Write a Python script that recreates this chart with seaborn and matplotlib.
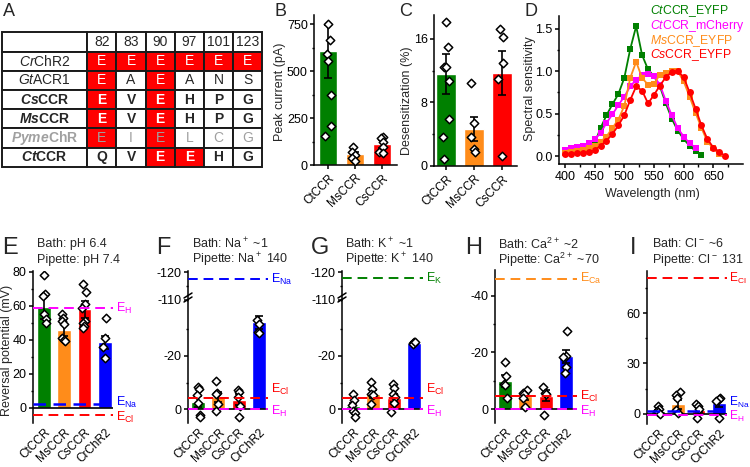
import re
import numpy as np
import pandas as pd
import matplotlib
matplotlib.use('Agg')
import matplotlib.pyplot as plt
import seaborn as sns
from matplotlib.ticker import MultipleLocator, FixedLocator
from matplotlib.lines import Line2D
import matplotlib.transforms as mtransforms

# ---------------- data ----------------
# Panel A
positions_A = ['82', '83', '90', '97', '101', '123']
proteins_A = ['CrChR2', 'GtACR1', 'CsCCR', 'MsCCR', 'PymeChR', 'CtCCR']
residues_CrChR2 = ['E', 'E', 'E', 'E', 'E', 'E']
residues_GtACR1 = ['E', 'A', 'E', 'A', 'N', 'S']
residues_CsCCR = ['E', 'V', 'E', 'H', 'P', 'G']
residues_MsCCR = ['E', 'V', 'E', 'H', 'P', 'G']
residues_PymeChR = ['E', 'I', 'E', 'L', 'C', 'G']
residues_CtCCR = ['Q', 'V', 'E', 'E', 'H', 'G']
bold_rows = ['CsCCR', 'MsCCR', 'PymeChR', 'CtCCR']
grey_rows = ['PymeChR']

# Panel B
cats3 = ['CtCCR', 'MsCCR', 'CsCCR']
peak_mean = [606, 58, 112]
peak_sem = [140, 12, 20]
peak_ct = [750, 665, 590, 553, 372, 207, 154]
peak_ms = [97, 71, 53, 36, 21]
peak_cs = [150, 142, 124, 97, 71, 62]

# Panel C
des_mean = [11.6, 4.7, 11.7]
des_sem = [2.5, 1.5, 2.8]
des_ct = [18.1, 15.0, 12.5, 12.4, 10.7, 5.9, 3.7, 0.9]
des_ms = [10.4, 5.4, 3.7, 2.2, 1.7]
des_cs = [17.2, 16.2, 13.0, 10.9, 1.3]

# Panel D
wl_ct_eyfp = [400, 410, 420, 430, 440, 450, 460, 470, 480, 490, 500, 510, 520,
              530, 540, 550, 560, 570, 580, 590, 600, 610, 620, 630]
sens_ct_eyfp = [0.05, 0.05, 0.06, 0.08, 0.10, 0.15, 0.33, 0.48, 0.61, 0.73, 0.92, 1.26, 1.53,
                1.19, 1.02, 0.94, 0.82, 0.62, 0.44, 0.30, 0.20, 0.12, 0.06, 0.01]
wl_ct_mch = [400, 410, 420, 430, 440, 450, 460, 470, 480, 490, 500, 510, 520,
             530, 540, 550, 560, 570, 580, 590, 600, 610, 620]
sens_ct_mch = [0.07, 0.09, 0.11, 0.12, 0.15, 0.20, 0.27, 0.39, 0.49, 0.60, 0.70, 0.82, 0.90,
               0.95, 0.97, 0.94, 0.84, 0.65, 0.48, 0.33, 0.23, 0.15, 0.10]
wl_ms = [400, 410, 420, 430, 440, 450, 460, 470, 480, 490, 500, 510, 520, 530,
         540, 550, 560, 570, 580, 590, 600, 610, 620, 630, 640, 650, 660]
sens_ms = [0.04, 0.05, 0.06, 0.07, 0.09, 0.12, 0.17, 0.23, 0.33, 0.43, 0.59, 0.92, 1.11, 0.92,
           0.84, 0.85, 0.96, 0.98, 1.00, 1.00, 0.88, 0.70, 0.51, 0.33, 0.17, 0.09, 0.02]
wl_cs = [400, 410, 420, 430, 440, 450, 460, 470, 480, 490, 500, 510, 520, 530,
         540, 550, 560, 570, 580, 590, 600, 610, 620, 630, 640, 650, 660, 670]
sens_cs = [0.02, 0.02, 0.03, 0.04, 0.05, 0.07, 0.12, 0.18, 0.26, 0.36, 0.48, 0.66, 0.82, 0.77,
           0.62, 0.72, 0.83, 0.93, 0.99, 1.00, 0.93, 0.75, 0.56, 0.36, 0.20, 0.10, 0.05, 0.00]
legend_D = [r'$\mathsf{Ct}$CCR_EYFP', r'$\mathsf{Ct}$CCR_mCherry', r'$\mathsf{Ms}$CCR_EYFP', r'$\mathsf{Cs}$CCR_EYFP']
wl_ticks = [400, 450, 500, 550, 600, 650]

# Panels E-I
cats4 = ['CtCCR', 'MsCCR', 'CsCCR', 'CrChR2']
E_mean = [59.5, 46, 58, 38.5]
E_sem = [7, 3.5, 5, 4]
E_pts = [[78, 67, 66, 55, 52, 50], [55, 53, 51, 49, 41, 40, 39],
         [73, 68, 61, 59, 51, 50, 48, 47], [53, 41, 36, 29]]
E_head = ['Bath: pH 6.4', 'Pipette: pH 7.4']

F_mean = [-2.8, -4.5, -3.5, -32.7]
F_sem = [2.0, 1.8, 2.0, 2.4]
F_pts = [[-8.2, -7.5, -5.1, -2.2, 2.1, 3.1], [-10.7, -6.2, -5.7, -2.0, 0.9],
         [-7.2, -6.3, -4.7, -1.2, 3.0], [-33.5, -32.0, -29.0, -28.5]]
F_head = [r'Bath: Na$^+$ ~1', r'Pipette: Na$^+$ 140']

G_mean = [-1.1, -5.6, -4.2, -25.0]
G_sem = [1.3, 1.5, 1.5, 0.4]
G_pts = [[-5.5, -3.4, -1.5, 0.6, 1.4, 2.9], [-10.3, -7.4, -5.6, -5.4, -1.9],
         [-9.4, -8.1, -5.5, -4.6, -2.4, 1.0], [-25.3, -25.0, -24.8, -24.6, -25.2]]
G_head = [r'Bath: K$^+$ ~1', r'Pipette: K$^+$ 140']

H_mean = [-9.9, -4.6, -4.7, -18.7]
H_sem = [2.0, 1.3, 2.0, 2.3]
H_pts = [[-16.5, -11.8, -8.8, -8.5, -3.8], [-6.7, -5.8, -5.5, -4.0, -0.8],
         [-7.9, -5.8, -5.5, 2.1], [-27.6, -18.7, -18.5, -14.9, -12.6]]
H_head = [r'Bath: Ca$^{2+}$ ~2', r'Pipette: Ca$^{2+}$ ~70']

I_mean = [1.6, 5.6, 2.4, 6.5]
I_sem = [1.0, 2.5, 1.5, 2.5]
I_pts = [[5, 3, 2, 1, 0], [13, 11.5, 9.5, 2.6, 0.6],
         [5.6, 4.6, 3.0, -2.4], [9.5, 9.0, 7.5, -2.4]]
I_head = [r'Bath: Cl$^-$ ~6', r'Pipette: Cl$^-$ 131']

# equilibrium potentials (value, ion)
E_eq = [(59, 'H'), (2.4, 'Na'), (-4, 'Cl')]
F_eq = [(-117.5, 'Na'), (-4.3, 'Cl'), (0, 'H')]
G_eq = [(-117.7, 'K'), (-4.3, 'Cl'), (0, 'H')]
H_eq = [(-46.1, 'Ca'), (-4.6, 'Cl'), (0, 'H')]
I_eq = [(80.8, 'Cl'), (1.6, 'Na'), (-0.8, 'H')]

# ---------------- style ----------------
GREEN, ORANGE, RED, BLUE, MAG = '#008000', '#FF8C1A', '#FF0000', '#0000FF', '#FF00FF'
bar_colors = {'CtCCR': GREEN, 'MsCCR': ORANGE, 'CsCCR': RED, 'CrChR2': BLUE}
ion_colors = {'H': MAG, 'Na': BLUE, 'Cl': RED, 'K': GREEN, 'Ca': ORANGE}

sns.set_style('ticks')
plt.rcParams.update({
    'font.family': ['Liberation Sans', 'DejaVu Sans'],
    'mathtext.fontset': 'custom',
    'mathtext.rm': 'Liberation Sans',
    'mathtext.it': 'Liberation Sans:italic:bold',
    'mathtext.sf': 'Liberation Sans:italic',
    'mathtext.bf': 'Liberation Sans:bold',
    'axes.unicode_minus': False,
    'axes.linewidth': 1.1,
    'xtick.major.width': 1.1, 'ytick.major.width': 1.1,
    'xtick.minor.width': 1.0, 'ytick.minor.width': 1.0,
    'xtick.major.size': 3.0, 'ytick.major.size': 3.0,
    'xtick.minor.size': 1.8, 'ytick.minor.size': 1.8,
    'xtick.major.pad': 2.0, 'ytick.major.pad': 1.5,
    'xtick.labelsize': 9, 'ytick.labelsize': 9,
    'axes.labelsize': 9,
    'xtick.color': 'black', 'ytick.color': 'black',
    'axes.edgecolor': 'black',
})

W, H = 750, 467
fig = plt.figure(figsize=(7.5, 4.67), dpi=100)


def px_axes(l, t, r, b):
    return fig.add_axes([l / W, 1 - b / H, (r - l) / W, (b - t) / H])


def ftext(x, y, s, **kw):
    kw.setdefault('va', 'center')
    fig.text(x / W, 1 - y / H, s, **kw)


def points_df(cats, lists):
    g, v = [], []
    for c, vals in zip(cats, lists):
        g += [c] * len(vals)
        v += list(vals)
    return pd.DataFrame({'group': g, 'value': v})


def bars(ax, cats, means, sems, pts, width=0.68):
    sns.barplot(x=cats, y=means, hue=cats, palette=[bar_colors[c] for c in cats],
                legend=False, width=width, saturation=1, ax=ax, zorder=1)
    ax.errorbar(np.arange(len(cats)), means, yerr=sems, fmt='none', ecolor='black',
                elinewidth=1.2, capsize=3, capthick=1.2, zorder=3)
    np.random.seed(3)
    sns.stripplot(data=points_df(cats, pts), x='group', y='value', order=cats,
                  jitter=0.13, marker='D', size=4.3, color='white', edgecolor='black',
                  linewidth=1.1, ax=ax, zorder=4)
    ax.set_xlabel('')
    ax.set_ylabel('')


def clean(ax, bottom=True):
    ax.spines['top'].set_visible(False)
    ax.spines['right'].set_visible(False)
    if not bottom:
        ax.spines['bottom'].set_visible(False)


def rot_labels(ax, cats, bottom_ticks=True):
    ax.set_xticks(np.arange(len(cats)))
    ax.set_xticklabels(cats, rotation=45, ha='right', rotation_mode='anchor', fontsize=8.5)
    if not bottom_ticks:
        ax.tick_params(axis='x', length=0, pad=2.5)


def eq_label(ax, val, ion, dy=0, dx=3, fs=9):
    tr = mtransforms.blended_transform_factory(ax.transAxes, ax.transData)
    tr = mtransforms.offset_copy(tr, fig=fig, x=dx, y=dy, units='dots')
    ax.text(1.0, val, r'E$_{\mathrm{' + ion + '}}$', color=ion_colors[ion],
            fontsize=fs, va='center', ha='left', transform=tr, clip_on=False)


def eq_line(ax, val, ion, lw=1.4):
    ax.axhline(val, color=ion_colors[ion], lw=lw, ls=(0, (5, 3)), zorder=5)


# ---------------- Panel A ----------------
axA = px_axes(1.7, 32.3, 262.3, 166.7)
axA.axis('off')
res_rows = [residues_CrChR2, residues_GtACR1, residues_CsCCR,
            residues_MsCCR, residues_PymeChR, residues_CtCCR]
cell_text = [[''] + positions_A] + [[n] + r for n, r in zip(proteins_A, res_rows)]
cell_cols = [['white'] * 7] + [['white'] + [RED if x == 'E' else 'white' for x in r] for r in res_rows]
widths = [85.6] + [29.17] * 6
tab = axA.table(cellText=cell_text, cellColours=cell_cols,
                colWidths=[w / sum(widths) for w in widths], bbox=[0, 0, 1, 1], cellLoc='center')
tab.auto_set_font_size(False)
tab.set_fontsize(10)
for (r, c), cell in tab.get_celld().items():
    cell.set_linewidth(1.4)
    cell.set_edgecolor('#1a1a1a')
    t = cell.get_text()
    if r == 0:
        continue
    name = proteins_A[r - 1]
    bold = name in bold_rows
    grey = name in grey_rows
    if c == 0:
        m = re.match(r'^([A-Z][a-z]+)(.*)$', name)
        if bold:
            t.set_text(r'$\mathit{' + m.group(1) + '}$' + m.group(2))
            t.set_fontweight('bold')
        else:
            t.set_text(r'$\mathsf{' + m.group(1) + '}$' + m.group(2))
        if grey:
            t.set_color('#A0A0A0')
    else:
        res = res_rows[r - 1][c - 1]
        if grey:
            t.set_color('#A0A0A0')
        elif res == 'E':
            t.set_color('white')
        if bold and not grey:
            t.set_fontweight('bold')

# ---------------- Panel B ----------------
axB = px_axes(314, 15, 397, 165)
bars(axB, cats3, peak_mean, peak_sem, [peak_ct, peak_ms, peak_cs], width=0.66)
axB.set_xlim(-0.52, 2.55)
axB.set_ylim(0, 800)
axB.yaxis.set_major_locator(FixedLocator([0, 250, 500, 750]))
axB.yaxis.set_minor_locator(FixedLocator([125, 375, 625]))
axB.set_ylabel('Peak current (pA)')
axB.yaxis.set_label_coords(-0.34, 0.49)
clean(axB)
rot_labels(axB, cats3)

# ---------------- Panel C ----------------
axC = px_axes(434, 15, 517, 166)
bars(axC, cats3, des_mean, des_sem, [des_ct, des_ms, des_cs], width=0.72)
axC.set_xlim(-0.43, 2.54)
axC.set_ylim(0, 19)
axC.yaxis.set_major_locator(FixedLocator([0, 8, 16]))
axC.yaxis.set_minor_locator(FixedLocator([4, 12]))
axC.set_ylabel('Desensitization (%)')
axC.yaxis.set_label_coords(-0.25, 0.43)
clean(axC)
rot_labels(axC, cats3)

# ---------------- Panel D ----------------
axD = px_axes(559, 16, 743, 164)
spec = [(wl_ct_eyfp, sens_ct_eyfp, GREEN, 's'), (wl_ct_mch, sens_ct_mch, MAG, 's'),
        (wl_ms, sens_ms, ORANGE, 's'), (wl_cs, sens_cs, RED, 'o')]
for wl, s, col, mk in spec:
    sns.lineplot(x=wl, y=s, color=col, marker=mk, markersize=5, markeredgewidth=0,
                 lw=1.3, ax=axD, zorder=3)
axD.set_xlim(390, 700)
axD.set_ylim(-0.094, 1.65)
axD.xaxis.set_major_locator(FixedLocator(wl_ticks))
axD.xaxis.set_minor_locator(FixedLocator([t + 25 for t in wl_ticks]))
axD.yaxis.set_major_locator(MultipleLocator(0.5))
axD.yaxis.set_minor_locator(MultipleLocator(0.25))
axD.yaxis.set_major_formatter(matplotlib.ticker.FormatStrFormatter('%.1f'))
axD.set_xlabel('Wavelength (nm)')
axD.set_ylabel('Spectral sensitivity')
axD.yaxis.set_label_coords(-0.125, 0.51)
axD.xaxis.set_label_coords(0.505, -0.16)
clean(axD)
for i, (lab, (_, _, col, _)) in enumerate(zip(legend_D, spec)):
    ftext(650, 11 + i * 14.8, lab, color=col, fontsize=8.8, ha='left')


# ---------------- Panels E-I ----------------
def rev_axes(ax, cats, means, sems, pts, xlim):
    bars(ax, cats, means, sems, pts, width=0.68)
    ax.axhline(0, color='black', lw=1.2, zorder=2)
    ax.set_xlim(*xlim)
    clean(ax, bottom=False)
    rot_labels(ax, cats, bottom_ticks=False)


# E
axE = px_axes(33, 271, 113, 423)
rev_axes(axE, cats4, E_mean, E_sem, E_pts, (-0.54, 3.4))
axE.set_ylim(-9, 80.5)
axE.yaxis.set_major_locator(MultipleLocator(20))
axE.yaxis.set_minor_locator(MultipleLocator(10))
axE.set_ylabel('Reversal potential (mV)')
axE.yaxis.set_label_coords(-0.25, 0.48)
for v, ion in E_eq:
    eq_line(axE, v, ion, lw=1.8 if ion == 'Na' else 1.4)
    eq_label(axE, v, ion, dy={'Na': 1, 'Cl': -3, 'H': -1}[ion])


def broken_panel(l, r, means, sems, pts, eqs, xlim):
    axU = px_axes(l, 271, r, 301)
    axL = px_axes(l, 301, r, 423)
    rev_axes(axL, cats4, means, sems, pts, xlim)
    axL.set_ylim(5.28, -40.75)
    axL.yaxis.set_major_locator(FixedLocator([-20, 0]))
    axL.yaxis.set_minor_locator(FixedLocator([-30, -10]))
    axL.spines['top'].set_visible(False)
    axU.set_xlim(*xlim)
    axU.set_ylim(-109.64, -120.36)
    axU.yaxis.set_major_locator(FixedLocator([-120, -110]))
    axU.yaxis.set_minor_locator(FixedLocator([-115]))
    for s in ['top', 'right', 'bottom']:
        axU.spines[s].set_visible(False)
    axU.set_xticks([])
    axU.patch.set_alpha(0)
    for v, ion in eqs:
        a = axU if v < -100 else axL
        eq_line(a, v, ion)
        dy = {'Cl': 8, 'H': -2}.get(ion, 0)
        eq_label(a, v, ion, dy=dy)
    # axis break marks
    for off in (0, 4):
        fig.add_artist(Line2D([(l - 4) / W, (l + 4) / W],
                              [1 - (302 - off) / H, 1 - (297 - off) / H],
                              color='black', lw=1.1))
    return axL


broken_panel(188, 268, F_mean, F_sem, F_pts, F_eq, (-0.49, 3.44))
broken_panel(342, 423, G_mean, G_sem, G_pts, G_eq, (-0.54, 3.44))

# H
axH = px_axes(495, 270, 577, 423)
rev_axes(axH, cats4, H_mean, H_sem, H_pts, (-0.49, 3.54))
axH.set_ylim(4.9, -49.1)
axH.yaxis.set_major_locator(FixedLocator([-40, -20, 0]))
axH.yaxis.set_minor_locator(FixedLocator([-30, -10]))
for v, ion in H_eq:
    eq_line(axH, v, ion)
    eq_label(axH, v, ion, dy=-2 if ion == 'H' else 0)

# I
axI = px_axes(647, 271, 727, 424)
rev_axes(axI, cats4, I_mean, I_sem, I_pts, (-0.54, 3.4))
axI.set_ylim(-6, 85)
axI.yaxis.set_major_locator(FixedLocator([0, 30, 60]))
axI.yaxis.set_minor_locator(FixedLocator([15, 45, 75]))
for v, ion in I_eq:
    eq_line(axI, v, ion, lw=1.8 if ion == 'Na' else 1.4)
    eq_label(axI, v, ion, dy={'Na': 9, 'H': -1}.get(ion, 0), dx=2, fs=8.6)

# headers
for x, head in [(37, E_head), (192, F_head), (345, G_head), (498, H_head), (652, I_head)]:
    ftext(x, 244, head[0], fontsize=9, ha='left')
    ftext(x, 260, head[1], fontsize=9, ha='left')

# panel letters
for x, y, s, fs in [(3, 11, 'A', 13), (275, 11, 'B', 13), (399, 11, 'C', 13), (524, 11, 'D', 13),
                    (2, 248, 'E', 17), (156, 248, 'F', 17), (311, 248, 'G', 17),
                    (465, 248, 'H', 17), (630, 248, 'I', 17)]:
    ftext(x, y, s, fontsize=fs, ha='left')

fig.savefig('out.png', dpi=100)
